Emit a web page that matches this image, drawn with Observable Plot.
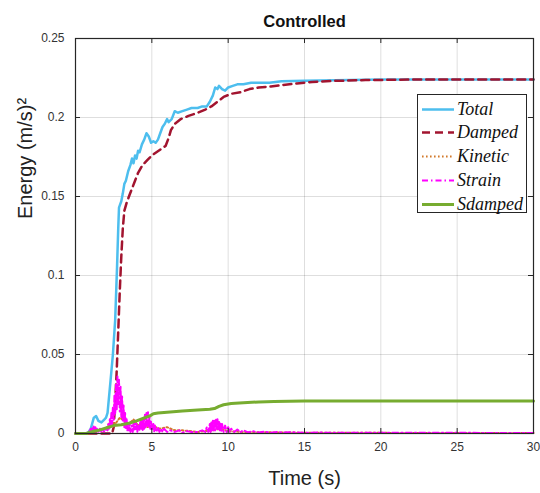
<!DOCTYPE html>
<html>
<head>
<meta charset="utf-8">
<script src="https://cdn.jsdelivr.net/npm/d3@7"></script>
<script src="https://cdn.jsdelivr.net/npm/@observablehq/plot@0.6"></script>
<style>
  html, body { margin: 0; padding: 0; background: #fff; }
  #wrap { position: relative; width: 540px; height: 493px; font-family: "Liberation Sans", Arial, sans-serif; }
  #legend { position: absolute; left: 417px; top: 94px; width: 110px; height: 119px; border: 1px solid #262626; background: #fff; box-sizing: border-box; }
  .row { position: absolute; left: 0; height: 24px; width: 110px; }
  .row svg { position: absolute; left: 0; top: 0; }
  .row span { position: absolute; left: 39px; top: 0; line-height: 24px; font-family: "Liberation Serif", "Times New Roman", serif; font-style: italic; font-size: 18px; color: #111; white-space: nowrap; }
</style>
</head>
<body>
<div id="wrap"></div>
<script>
// ---- data ----
const seriesNames = ["Total", "Damped", "Kinetic", "Strain", "Sdamped"];
const seriesColors = ["#4DBEEE", "#A2142F", "#D27A2C", "#FF00FF", "#77AC30"];
const seriesDash = [null, "8,5", "1.6,2.4", "6,3,1.5,3", null];
const seriesWidth = [2.5, 2.5, 2, 2, 3];

const xTicks = [0, 5, 10, 15, 20, 25, 30];
const yTicks = [0, 0.05, 0.1, 0.15, 0.2, 0.25];

const totalTime = [0, 0.8, 1.0, 1.2, 1.35, 1.5, 1.7, 1.9, 2.0, 2.1, 2.3, 2.45, 2.6, 2.72, 2.8, 2.85, 3.0, 3.1, 3.2, 3.3, 3.45, 3.6, 3.7, 3.8, 3.9, 4.0, 4.1, 4.2, 4.35, 4.5, 4.65, 4.8, 4.95, 5.1, 5.25, 5.4, 5.55, 5.7, 5.85, 6.0, 6.1, 6.3, 6.5, 6.7, 7.0, 7.3, 7.6, 8.0, 8.3, 8.6, 8.8, 9.0, 9.15, 9.3, 9.4, 9.6, 9.8, 10.0, 10.3, 10.6, 11, 11.5, 12, 12.7, 13.5, 15, 17, 20, 25, 30];
const totalEnergy = [0, 0, 0.003, 0.010, 0.011, 0.008, 0.007, 0.009, 0.010, 0.013, 0.034, 0.050, 0.072, 0.105, 0.130, 0.143, 0.147, 0.152, 0.158, 0.160, 0.166, 0.170, 0.174, 0.171, 0.176, 0.174, 0.179, 0.178, 0.183, 0.186, 0.190, 0.188, 0.184, 0.185, 0.184, 0.186, 0.190, 0.194, 0.196, 0.199, 0.197, 0.199, 0.204, 0.203, 0.204, 0.205, 0.206, 0.206, 0.207, 0.207, 0.210, 0.214, 0.219, 0.218, 0.220, 0.218, 0.217, 0.219, 0.220, 0.221, 0.221, 0.222, 0.222, 0.222, 0.223, 0.2232, 0.2235, 0.224, 0.224, 0.224];

const dampedTime = [0, 2.4, 2.5, 2.6, 2.7, 2.8, 2.9, 3.0, 3.1, 3.2, 3.35, 3.5, 3.7, 3.9, 4.1, 4.4, 4.7, 5.0, 5.3, 5.6, 5.9, 6.1, 6.25, 6.5, 6.9, 7.4, 8.0, 8.5, 8.9, 9.3, 9.7, 10.2, 10.8, 11.4, 12, 12.8, 13.5, 14.5, 15.5, 17, 19, 22, 30];
const dampedEnergy = [0, 0, 0.004, 0.02, 0.04, 0.065, 0.09, 0.112, 0.13, 0.141, 0.146, 0.150, 0.155, 0.160, 0.165, 0.170, 0.173, 0.176, 0.178, 0.180, 0.182, 0.187, 0.192, 0.196, 0.199, 0.201, 0.203, 0.205, 0.207, 0.210, 0.213, 0.215, 0.216, 0.218, 0.219, 0.2196, 0.2205, 0.2215, 0.2225, 0.2232, 0.2237, 0.224, 0.224];

const kineticTime = [0, 0.9, 1.0, 1.5, 2.0, 2.3, 2.6, 2.9, 3.2, 3.5, 3.8, 4.1, 4.4, 4.7, 5.0, 5.5, 6, 6.5, 7, 8, 9, 9.5, 10, 11, 12, 15, 20, 30];
const kineticEnergy = [0, 0, 0.001, 0.002, 0.003, 0.008, 0.006, 0.010, 0.008, 0.006, 0.009, 0.005, 0.007, 0.004, 0.005, 0.003, 0.004, 0.002, 0.002, 0.001, 0.002, 0.003, 0.0015, 0.001, 0.0008, 0.0005, 0.0004, 0.0003];

const strainTime = [0, 0.8, 0.9, 1.0, 1.05, 1.1, 1.15, 1.2, 1.25, 1.3, 1.35, 1.4, 1.5, 1.6, 1.7, 1.8, 1.9, 2.0, 2.1, 2.15, 2.2, 2.25, 2.3, 2.35, 2.4, 2.45, 2.5, 2.55, 2.6, 2.65, 2.7, 2.75, 2.8, 2.85, 2.9, 2.95, 3.0, 3.05, 3.1, 3.15, 3.2, 3.25, 3.3, 3.35, 3.4, 3.45, 3.5, 3.55, 3.6, 3.7, 3.75, 3.8, 3.85, 3.9, 3.95, 4.0, 4.05, 4.1, 4.2, 4.25, 4.3, 4.35, 4.4, 4.45, 4.5, 4.55, 4.6, 4.65, 4.7, 4.75, 4.8, 4.85, 4.9, 4.95, 5.0, 5.1, 5.15, 5.2, 5.3, 5.4, 5.5, 5.6, 5.7, 5.8, 6.0, 6.2, 6.5, 6.8, 7.0, 7.3, 7.6, 8.0, 8.3, 8.5, 8.6, 8.7, 8.8, 8.85, 8.9, 8.95, 9.0, 9.05, 9.1, 9.15, 9.2, 9.25, 9.3, 9.35, 9.4, 9.45, 9.5, 9.55, 9.6, 9.7, 9.8, 9.9, 10.0, 10.1, 10.2, 10.4, 10.6, 10.8, 11.0, 11.3, 11.6, 12.0, 12.4, 12.8, 13.2, 13.6, 14, 15, 16, 17, 18, 20, 22, 24, 26, 28, 30];
const strainEnergy = [0, 0, 0.001, 0.003, 0.001, 0.004, 0.002, 0.005, 0.002, 0.004, 0.001, 0.003, 0.001, 0.003, 0.001, 0.002, 0.001, 0.003, 0.002, 0.006, 0.003, 0.009, 0.004, 0.013, 0.006, 0.017, 0.008, 0.024, 0.012, 0.031, 0.015, 0.036, 0.018, 0.034, 0.014, 0.030, 0.010, 0.024, 0.008, 0.018, 0.004, 0.013, 0.003, 0.009, 0.002, 0.007, 0.002, 0.006, 0.001, 0.005, 0.001, 0.007, 0.002, 0.008, 0.002, 0.006, 0.001, 0.005, 0.002, 0.008, 0.003, 0.009, 0.002, 0.010, 0.003, 0.012, 0.004, 0.013, 0.005, 0.0135, 0.004, 0.011, 0.003, 0.008, 0.002, 0.006, 0.001, 0.005, 0.001, 0.004, 0.001, 0.003, 0.001, 0.003, 0.001, 0.002, 0.001, 0.002, 0.0005, 0.0015, 0.001, 0.001, 0.002, 0.001, 0.004, 0.001, 0.006, 0.001, 0.007, 0.002, 0.008, 0.002, 0.009, 0.002, 0.0095, 0.003, 0.009, 0.002, 0.008, 0.002, 0.007, 0.001, 0.006, 0.001, 0.005, 0.001, 0.004, 0.001, 0.003, 0.001, 0.0025, 0.0008, 0.002, 0.0007, 0.0015, 0.0006, 0.0012, 0.0005, 0.001, 0.0005, 0.0008, 0.0005, 0.0006, 0.0004, 0.0005, 0.0004, 0.0004, 0.0004, 0.0004, 0.0003, 0.0003];

const sdampedTime = [0, 0.7, 1.0, 1.5, 2.0, 2.5, 3.0, 3.5, 4.0, 4.5, 4.9, 5.1, 5.4, 6, 7, 8, 8.8, 9.1, 9.4, 9.7, 10.2, 11, 12, 13, 15, 18, 22, 30];
const sdampedEnergy = [0, 0, 0.001, 0.002, 0.0035, 0.005, 0.0055, 0.0065, 0.008, 0.0098, 0.0113, 0.0125, 0.013, 0.0135, 0.0143, 0.0148, 0.0153, 0.0158, 0.0172, 0.0182, 0.019, 0.0195, 0.0200, 0.0203, 0.0205, 0.0206, 0.0206, 0.0206];

// ---- tidy table ----
const times = [totalTime, dampedTime, kineticTime, strainTime, sdampedTime];
const energies = [totalEnergy, dampedEnergy, kineticEnergy, strainEnergy, sdampedEnergy];
const series = seriesNames.map((name, i) => times[i].map((t, j) => ({name, t, e: energies[i][j]})));

const W = 540, H = 493;
const mL = 75, mR = 7, mT = 38, mB = 60;
const innerW = W - mL - mR, innerH = H - mT - mB;

const lineMarks = series.map((data, i) => Plot.line(data, {
  x: "t", y: "e",
  stroke: seriesColors[i],
  strokeWidth: seriesWidth[i],
  strokeDasharray: seriesDash[i] ?? undefined,
  strokeLinejoin: "round"
}));

const chart = Plot.plot({
  width: W, height: H,
  marginLeft: mL, marginRight: mR, marginTop: mT, marginBottom: mB,
  style: {fontFamily: "Liberation Sans, Arial, sans-serif", background: "#fff"},
  x: {domain: [0, 30]},
  y: {domain: [0, 0.25]},
  marks: [
    Plot.gridX(xTicks, {stroke: "#000", strokeOpacity: 0.13}),
    Plot.gridY(yTicks, {stroke: "#000", strokeOpacity: 0.13}),
    ...lineMarks,
    Plot.tickX(xTicks, {x: d => d, insetTop: innerH - 5, stroke: "#262626"}),
    Plot.tickX(xTicks, {x: d => d, insetBottom: innerH - 5, stroke: "#262626"}),
    Plot.tickY(yTicks, {y: d => d, insetRight: innerW - 5, stroke: "#262626"}),
    Plot.tickY(yTicks, {y: d => d, insetLeft: innerW - 5, stroke: "#262626"}),
    Plot.frame({stroke: "#262626", strokeWidth: 1.2}),
    Plot.axisX({ticks: xTicks, tickSize: 0, tickPadding: 9, label: null, fontSize: 12, color: "#333", tickFormat: d => String(d)}),
    Plot.axisY({ticks: yTicks, tickSize: 0, tickPadding: 11, label: null, fontSize: 12, color: "#333", tickFormat: d => String(d)}),
    Plot.text(["Controlled"], {frameAnchor: "top", lineAnchor: "middle", dy: -17, fontWeight: "bold", fontSize: 16.5, fill: "#111"}),
    Plot.text(["Time (s)"], {frameAnchor: "bottom", lineAnchor: "middle", dy: 45, fontSize: 20, fill: "#222"}),
    Plot.text(["Energy (m/s)²"], {frameAnchor: "left", lineAnchor: "middle", rotate: -90, dx: -50, dy: -17, fontSize: 20, fill: "#222"})
  ]
});

const wrap = document.getElementById("wrap");
chart.style.position = "absolute";
chart.style.left = "0";
chart.style.top = "0";
wrap.appendChild(chart);

// legend
const legend = document.createElement("div");
legend.id = "legend";
seriesNames.forEach((name, i) => {
  const row = document.createElement("div");
  row.className = "row";
  row.style.top = (1.5 + i * 23.8) + "px";
  const svg = d3.create("svg").attr("width", 40).attr("height", 24);
  svg.append("line").attr("x1", 4).attr("x2", 36).attr("y1", 12.5).attr("y2", 12.5)
    .attr("stroke", seriesColors[i]).attr("stroke-width", seriesWidth[i])
    .attr("stroke-dasharray", seriesDash[i]);
  row.appendChild(svg.node());
  const span = document.createElement("span");
  span.textContent = name;
  row.appendChild(span);
  legend.appendChild(row);
});
wrap.appendChild(legend);
</script>
</body>
</html>
